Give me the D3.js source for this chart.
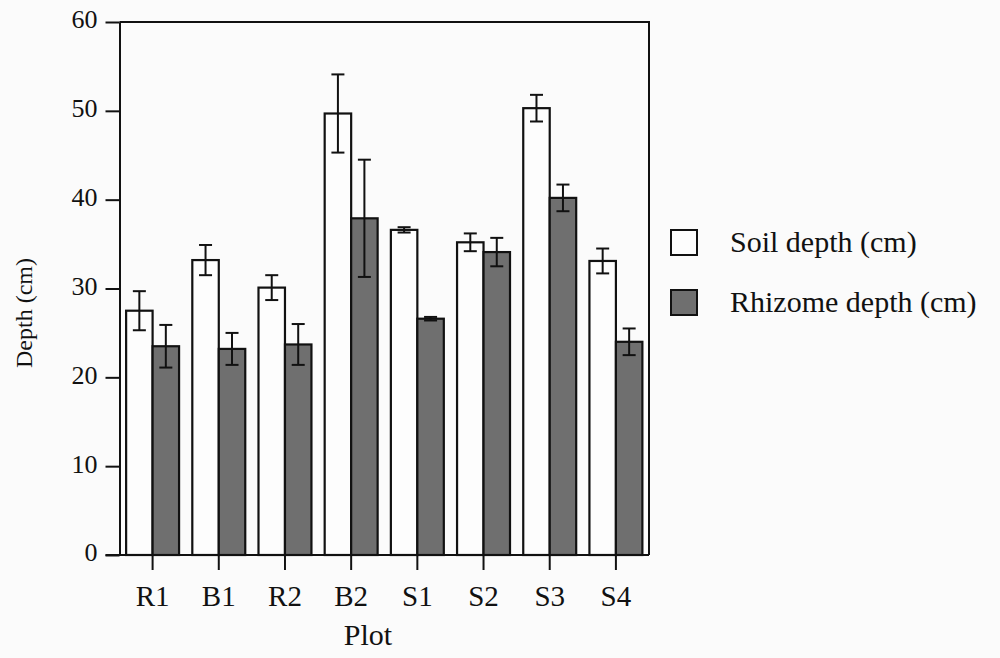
<!DOCTYPE html>
<html>
<head>
<meta charset="utf-8">
<script src="https://cdn.jsdelivr.net/npm/d3@7"></script>
<style>
  html, body { margin: 0; padding: 0; background: #fbfbfb; }
  svg { display: block; }
  text { font-family: "Liberation Serif", "DejaVu Serif", serif; fill: #111; }
</style>
</head>
<body>
<svg id="chart" width="1000" height="658"></svg>
<script>
// Plots and the two measured depths (mean ± error), in cm
const plots = ["R1", "B1", "R2", "B2", "S1", "S2", "S3", "S4"];
const soilDepth = [27.5, 33.2, 30.1, 49.7, 36.6, 35.2, 50.3, 33.1];
const soilErr = [2.2, 1.7, 1.4, 4.4, 0.3, 1.0, 1.5, 1.4];
const rhizomeDepth = [23.5, 23.2, 23.7, 37.9, 26.6, 34.1, 40.2, 24.0];
const rhizomeErr = [2.4, 1.8, 2.3, 6.6, 0.2, 1.6, 1.5, 1.5];
const yTicks = [0, 10, 20, 30, 40, 50, 60];
const seriesNames = ["Soil depth (cm)", "Rhizome depth (cm)"];
const seriesFill = ["#fdfdfd", "#6f6f6f"];

const svg = d3.select("#chart");
const plotL = 119.5, plotR = 649, plotT = 22, plotB = 555;

const x = d3.scaleBand().domain(plots).range([plotL, plotR]).paddingInner(0.2).paddingOuter(0.1);
const y = d3.scaleLinear().domain([0, 60]).range([plotB, plotT]);
const sub = d3.scaleBand().domain([0, 1]).range([0, x.bandwidth()]);

const series = [
  { vals: soilDepth, errs: soilErr },
  { vals: rhizomeDepth, errs: rhizomeErr }
];

// frame: top and right edges
svg.append("path")
  .attr("d", `M${plotL},${plotT}H${plotR}V${plotB}`)
  .attr("fill", "none").attr("stroke", "#111").attr("stroke-width", 2);

// bars
series.forEach((s, si) => {
  svg.append("g").selectAll("rect")
    .data(plots)
    .join("rect")
    .attr("x", d => x(d) + sub(si))
    .attr("y", (d, i) => y(s.vals[i]))
    .attr("width", sub.bandwidth())
    .attr("height", (d, i) => y(0) - y(s.vals[i]))
    .attr("fill", seriesFill[si])
    .attr("stroke", "#111")
    .attr("stroke-width", 2.2);
});

// error bars
series.forEach((s, si) => {
  const g = svg.append("g").attr("stroke", "#111").attr("stroke-width", 2);
  plots.forEach((p, i) => {
    const cx = x(p) + sub(si) + sub.bandwidth() / 2;
    const y1 = y(s.vals[i] + s.errs[i]);
    const y2 = y(s.vals[i] - s.errs[i]);
    g.append("line").attr("x1", cx).attr("x2", cx).attr("y1", y1).attr("y2", y2);
    g.append("line").attr("x1", cx - 6.5).attr("x2", cx + 6.5).attr("y1", y1).attr("y2", y1);
    g.append("line").attr("x1", cx - 6.5).attr("x2", cx + 6.5).attr("y1", y2).attr("y2", y2);
  });
});

// y axis
const yAxis = svg.append("g")
  .attr("transform", `translate(${plotL},0)`)
  .call(d3.axisLeft(y).tickValues(yTicks).tickSize(14).tickPadding(8).tickSizeOuter(0));
yAxis.select(".domain").attr("stroke", "#111").attr("stroke-width", 2);
yAxis.selectAll(".tick line").attr("stroke", "#111").attr("stroke-width", 2);
yAxis.selectAll(".tick text")
  .attr("font-family", "Liberation Serif, serif")
  .attr("font-size", 26).attr("fill", "#111").attr("dy", "0.23em");

// x axis
const xAxis = svg.append("g")
  .attr("transform", `translate(0,${plotB})`)
  .call(d3.axisBottom(x).tickSize(15).tickPadding(15).tickSizeOuter(0));
xAxis.select(".domain").attr("d", `M${plotL - 14},0H${plotR}`).attr("stroke", "#111").attr("stroke-width", 2);
xAxis.selectAll(".tick line").attr("stroke", "#111").attr("stroke-width", 2);
xAxis.selectAll(".tick text")
  .attr("font-family", "Liberation Serif, serif")
  .attr("font-size", 29).attr("fill", "#111");

// axis titles
svg.append("text")
  .attr("x", 368).attr("y", 645)
  .attr("text-anchor", "middle").attr("font-size", 30)
  .text("Plot");
svg.append("text")
  .attr("transform", "translate(32,313) rotate(-90)")
  .attr("text-anchor", "middle").attr("font-size", 24)
  .text("Depth (cm)");

// legend
const legend = svg.append("g").attr("transform", "translate(671,230)");
seriesNames.forEach((name, i) => {
  const row = legend.append("g").attr("transform", `translate(0,${i * 60})`);
  row.append("rect")
    .attr("width", 26).attr("height", 25)
    .attr("fill", seriesFill[i]).attr("stroke", "#111").attr("stroke-width", 2);
  row.append("text")
    .attr("x", 59).attr("y", 22)
    .attr("font-size", 30)
    .text(name);
});
</script>
</body>
</html>
